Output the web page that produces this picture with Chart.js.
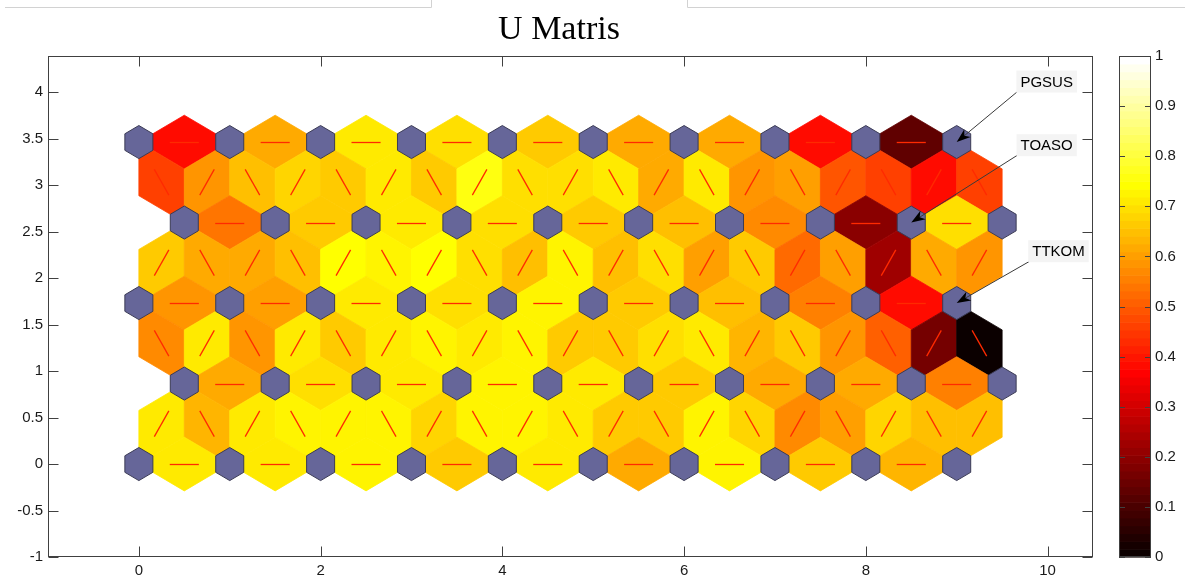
<!DOCTYPE html>
<html>
<head>
<meta charset="utf-8">
<script src="https://cdn.jsdelivr.net/npm/chart.js@4.4.1/dist/chart.umd.min.js"></script>
<style>
  body { margin: 0; background: #fff; }
  canvas { display: block; }
</style>
</head>
<body>
<canvas id="myChart" width="1185" height="584"></canvas>
<script>
const chartTitle = 'U Matris';
const xTicks = [0, 2, 4, 6, 8, 10];
const yTicks = [-1, -0.5, 0, 0.5, 1, 1.5, 2, 2.5, 3, 3.5, 4];
const cbTicks = [0, 0.1, 0.2, 0.3, 0.4, 0.5, 0.6, 0.7, 0.8, 0.9, 1];

// 10 x 5 hexagonal SOM -> 19 x 9 U matrix
const mapCols = 10;
const mapRows = 5;

// U matrix distances, top row first
// even rows: only the cells between two nodes (9), odd rows: all 19 cells
const uRow0 = [0.38, 0.62, 0.71, 0.69, 0.67, 0.61, 0.62, 0.38, 0.13];
const uRow1 = [0.46, 0.58, 0.65, 0.68, 0.67, 0.71, 0.67, 0.75, 0.70, 0.70, 0.71, 0.61, 0.71, 0.58, 0.60, 0.49, 0.46, 0.39, 0.46];
const uRow2 = [0.54, 0.67, 0.71, 0.70, 0.67, 0.65, 0.57, 0.20, 0.69];
const uRow3 = [0.67, 0.62, 0.62, 0.65, 0.74, 0.72, 0.74, 0.69, 0.65, 0.72, 0.65, 0.70, 0.60, 0.66, 0.52, 0.60, 0.23, 0.62, 0.58];
const uRow4 = [0.59, 0.60, 0.71, 0.69, 0.72, 0.66, 0.65, 0.55, 0.38];
const uRow5 = [0.57, 0.71, 0.59, 0.71, 0.67, 0.71, 0.72, 0.71, 0.73, 0.67, 0.67, 0.70, 0.71, 0.63, 0.67, 0.59, 0.50, 0.16, 0.0];
const uRow6 = [0.62, 0.70, 0.71, 0.72, 0.71, 0.66, 0.61, 0.62, 0.55];
const uRow7 = [0.71, 0.64, 0.71, 0.72, 0.73, 0.73, 0.68, 0.72, 0.73, 0.71, 0.67, 0.66, 0.72, 0.68, 0.57, 0.60, 0.68, 0.65, 0.65];
const uRow8 = [0.71, 0.71, 0.72, 0.67, 0.71, 0.62, 0.73, 0.67, 0.63];
const uRows = [uRow0, uRow1, uRow2, uRow3, uRow4, uRow5, uRow6, uRow7, uRow8];

// labelled units: [column, map row from top]
const labelNames = ['PGSUS', 'TOASO', 'TTKOM'];
const labelNodes = [[9, 0], [8, 1], [9, 2]];

// where the label boxes sit (data units)
const labelPos = [[9.99, 4.115], [9.99, 3.43], [10.12, 2.29]];
const arrowTail = [[9.66, 4.0], [9.68, 3.33], [9.8, 2.18]];

const H = Math.sqrt(3) / 4;      // u matrix row step
const hexR = 0.5 / Math.sqrt(3); // u cell radius
const nodeR = 0.178;

function hot(v) {
  let i = Math.floor(v * 64) + 1;
  if (i > 64) i = 64;
  if (i < 1) i = 1;
  const r = Math.min(1, i / 24);
  const g = Math.min(1, Math.max(0, (i - 24) / 24));
  const b = Math.max(0, (i - 48) / 16);
  return 'rgb(' + Math.round(r * 255) + ',' + Math.round(g * 255) + ',' + Math.round(b * 255) + ')';
}

function rowOffset(r) {
  if (r % 2) return 0.25;
  return (r / 2) % 2 ? 0.5 : 0;
}
function isInt(a) { return Math.abs(a - Math.round(a)) < 1e-6; }

// build cells
const edgeCells = [];
const nodeCells = [];
for (let r = 0; r < 2 * mapRows - 1; r++) {
  const y = (2 * (mapRows - 1) - r) * H;
  const off = rowOffset(r);
  for (let k = 0; k < 2 * mapCols - 1; k++) {
    const x = off + 0.5 * k;
    if (r % 2 === 0) {
      if (k % 2 === 0) {
        nodeCells.push({ x: x, y: y });
      } else {
        edgeCells.push({ x: x, y: y, v: uRows[r][(k - 1) / 2], n1: [x - 0.5, y], n2: [x + 0.5, y] });
      }
    } else {
      const ou = rowOffset(r - 1);
      let n1, n2;
      if (isInt(x - 0.25 - ou)) { n1 = [x - 0.25, y + H]; n2 = [x + 0.25, y - H]; }
      else { n1 = [x + 0.25, y + H]; n2 = [x - 0.25, y - H]; }
      edgeCells.push({ x: x, y: y, v: uRows[r][k], n1: n1, n2: n2 });
    }
  }
}

function nodeXY(c, m) {
  return [c + (m % 2 ? 0.5 : 0), (mapRows - 1 - m) * 2 * H];
}

const umatPlugin = {
  id: 'umat',
  beforeDraw(chart) {
    // window edge lines from the screenshot
    const ctx = chart.ctx;
    ctx.save();
    ctx.strokeStyle = '#d2d2d2';
    ctx.lineWidth = 1;
    ctx.beginPath();
    ctx.moveTo(5, 7.5); ctx.lineTo(431.5, 7.5); ctx.lineTo(431.5, 0);
    ctx.moveTo(687.5, 0); ctx.lineTo(687.5, 7.5); ctx.lineTo(1185, 7.5);
    ctx.stroke();
    ctx.restore();
  },
  beforeDatasetsDraw(chart) {
    const { ctx, chartArea, scales } = chart;
    const px = v => scales.x.getPixelForValue(v);
    const py = v => scales.y.getPixelForValue(v);
    ctx.save();
    ctx.beginPath();
    ctx.rect(chartArea.left, chartArea.top, chartArea.width, chartArea.height);
    ctx.clip();

    const cells = chart.data.datasets[0].data;
    cells.forEach(c => {
      const dx = c.x - c.n1[0], dy = c.y - c.n1[1];
      const len = Math.hypot(dx, dy);
      const pX = -dy / len * hexR, pY = dx / len * hexR;
      ctx.beginPath();
      ctx.moveTo(px(c.n1[0]), py(c.n1[1]));
      ctx.lineTo(px(c.x + pX), py(c.y + pY));
      ctx.lineTo(px(c.n2[0]), py(c.n2[1]));
      ctx.lineTo(px(c.x - pX), py(c.y - pY));
      ctx.closePath();
      ctx.fillStyle = hot(c.v);
      ctx.strokeStyle = hot(c.v);
      ctx.lineWidth = 0.8;
      ctx.fill();
      ctx.stroke();
    });

    // red marks along the connection
    ctx.strokeStyle = '#ff2a00';
    ctx.lineWidth = 1.3;
    cells.forEach(c => {
      const dx = c.x - c.n1[0], dy = c.y - c.n1[1];
      const len = Math.hypot(dx, dy);
      const ux = dx / len * 0.16, uy = dy / len * 0.16;
      let ya = py(c.y - uy), yb = py(c.y + uy);
      if (Math.abs(uy) < 1e-9) { ya = yb = Math.round(ya) + 0.5; }
      ctx.beginPath();
      ctx.moveTo(px(c.x - ux), ya);
      ctx.lineTo(px(c.x + ux), yb);
      ctx.stroke();
    });

    // map units
    const nodes = chart.data.datasets[1].data;
    ctx.fillStyle = '#666699';
    ctx.strokeStyle = '#3b3b55';
    ctx.lineWidth = 1;
    nodes.forEach(n => {
      ctx.beginPath();
      for (let i = 0; i < 6; i++) {
        const a = Math.PI / 2 + i * Math.PI / 3;
        const vx = px(n.x + nodeR * Math.cos(a)), vy = py(n.y + nodeR * Math.sin(a));
        if (i === 0) ctx.moveTo(vx, vy); else ctx.lineTo(vx, vy);
      }
      ctx.closePath();
      ctx.fill();
      ctx.stroke();
    });
    ctx.restore();
  },
  afterDraw(chart) {
    const { ctx, chartArea, scales } = chart;
    const px = v => scales.x.getPixelForValue(v);
    const py = v => scales.y.getPixelForValue(v);
    const L = Math.round(chartArea.left) + 0.5, R = Math.round(chartArea.right) - 0.5;
    const T = Math.round(chartArea.top) + 0.5, B = Math.round(chartArea.bottom) - 0.5;
    ctx.save();

    // labels with arrows
    labelNames.forEach((name, i) => {
      const tip = nodeXY(labelNodes[i][0], labelNodes[i][1]);
      const tx = px(arrowTail[i][0]), ty = py(arrowTail[i][1]);
      const hx = px(tip[0]), hy = py(tip[1]);
      const ang = Math.atan2(hy - ty, hx - tx);
      ctx.strokeStyle = '#3a3a3a';
      ctx.lineWidth = 1;
      ctx.beginPath();
      ctx.moveTo(tx, ty);
      ctx.lineTo(hx - 10 * Math.cos(ang), hy - 10 * Math.sin(ang));
      ctx.stroke();
      ctx.save();
      ctx.translate(hx, hy);
      ctx.rotate(ang);
      ctx.fillStyle = '#000';
      ctx.beginPath();
      ctx.moveTo(0, 0);
      ctx.lineTo(-14, -5);
      ctx.lineTo(-10, 0);
      ctx.lineTo(-14, 5);
      ctx.closePath();
      ctx.fill();
      ctx.restore();

      ctx.font = '15px "Liberation Sans", Arial, sans-serif';
      const w = ctx.measureText(name).width;
      const cx = px(labelPos[i][0]), cy = py(labelPos[i][1]);
      ctx.fillStyle = '#f4f4f4';
      ctx.fillRect(cx - w / 2 - 4, cy - 11, w + 8, 22);
      ctx.fillStyle = '#000';
      ctx.textAlign = 'center';
      ctx.textBaseline = 'middle';
      ctx.fillText(name, cx, cy + 1);
    });

    // axes box with inward ticks
    ctx.strokeStyle = '#404040';
    ctx.lineWidth = 1;
    ctx.strokeRect(L, T, R - L, B - T);
    ctx.beginPath();
    xTicks.forEach(v => {
      const x = Math.round(px(v)) + 0.5;
      ctx.moveTo(x, B); ctx.lineTo(x, B - 10);
      ctx.moveTo(x, T); ctx.lineTo(x, T + 10);
    });
    yTicks.forEach(v => {
      const y = Math.round(py(v)) + 0.5;
      ctx.moveTo(L, y); ctx.lineTo(L + 10, y);
      ctx.moveTo(R, y); ctx.lineTo(R - 10, y);
    });
    ctx.stroke();

    // colour bar on the cb scale
    const cb = scales.cb;
    const x0 = Math.round(cb.left) + 26, x1 = x0 + 32;
    for (let i = 0; i < 64; i++) {
      const yA = cb.getPixelForValue(i / 64), yB = cb.getPixelForValue((i + 1) / 64);
      ctx.fillStyle = hot((i + 0.5) / 64);
      ctx.fillRect(x0, yB, x1 - x0, yA - yB + 0.6);
    }
    ctx.strokeRect(x0 + 0.5, T, x1 - x0 - 1, B - T);
    ctx.beginPath();
    cbTicks.forEach(v => {
      const y = Math.round(cb.getPixelForValue(v)) + 0.5;
      ctx.moveTo(x0, y); ctx.lineTo(x0 + 6, y);
      ctx.moveTo(x1, y); ctx.lineTo(x1 - 6, y);
    });
    ctx.stroke();

    // title
    ctx.fillStyle = '#000';
    ctx.font = '34px "Liberation Serif", "Times New Roman", serif';
    ctx.textAlign = 'center';
    ctx.textBaseline = 'alphabetic';
    ctx.fillText(chartTitle, 559, 39);
    ctx.restore();
  }
};

const tickFont = { family: '"Liberation Sans", Arial, sans-serif', size: 15 };

const ctx = document.getElementById('myChart').getContext('2d');
const myChart = new Chart(ctx, {
  type: 'scatter',
  data: {
    datasets: [
      { label: 'U matrix', data: edgeCells, pointRadius: 0 },
      { label: 'units', data: nodeCells, pointRadius: 0 }
    ]
  },
  options: {
    responsive: false,
    animation: false,
    events: [],
    layout: { padding: { top: 56, left: 0, right: 0, bottom: 0 } },
    plugins: { legend: { display: false }, tooltip: { enabled: false }, title: { display: false } },
    scales: {
      x: {
        type: 'linear', min: -1, max: 10.5,
        afterBuildTicks: s => { s.ticks = xTicks.map(v => ({ value: v })); },
        afterFit: s => { s.height = 27; },
        grid: { display: false, drawTicks: false },
        border: { display: false },
        ticks: { color: '#1a1a1a', font: tickFont, padding: 5, maxRotation: 0, callback: v => String(v) }
      },
      y: {
        type: 'linear', position: 'left', min: -1, max: 4.39,
        afterBuildTicks: s => { s.ticks = yTicks.map(v => ({ value: v })); },
        afterFit: s => { s.width = 48; },
        grid: { display: false, drawTicks: false },
        border: { display: false },
        ticks: { color: '#1a1a1a', font: tickFont, padding: 5, callback: v => String(v) }
      },
      cb: {
        type: 'linear', position: 'right', min: 0, max: 1,
        afterBuildTicks: s => { s.ticks = cbTicks.map(v => ({ value: v })); },
        afterFit: s => { s.width = 92; },
        grid: { display: false, drawTicks: true, tickLength: 59 },
        border: { display: false },
        ticks: { color: '#1a1a1a', font: tickFont, padding: 3, callback: v => String(v) }
      }
    }
  },
  plugins: [umatPlugin]
});
</script>
</body>
</html>
